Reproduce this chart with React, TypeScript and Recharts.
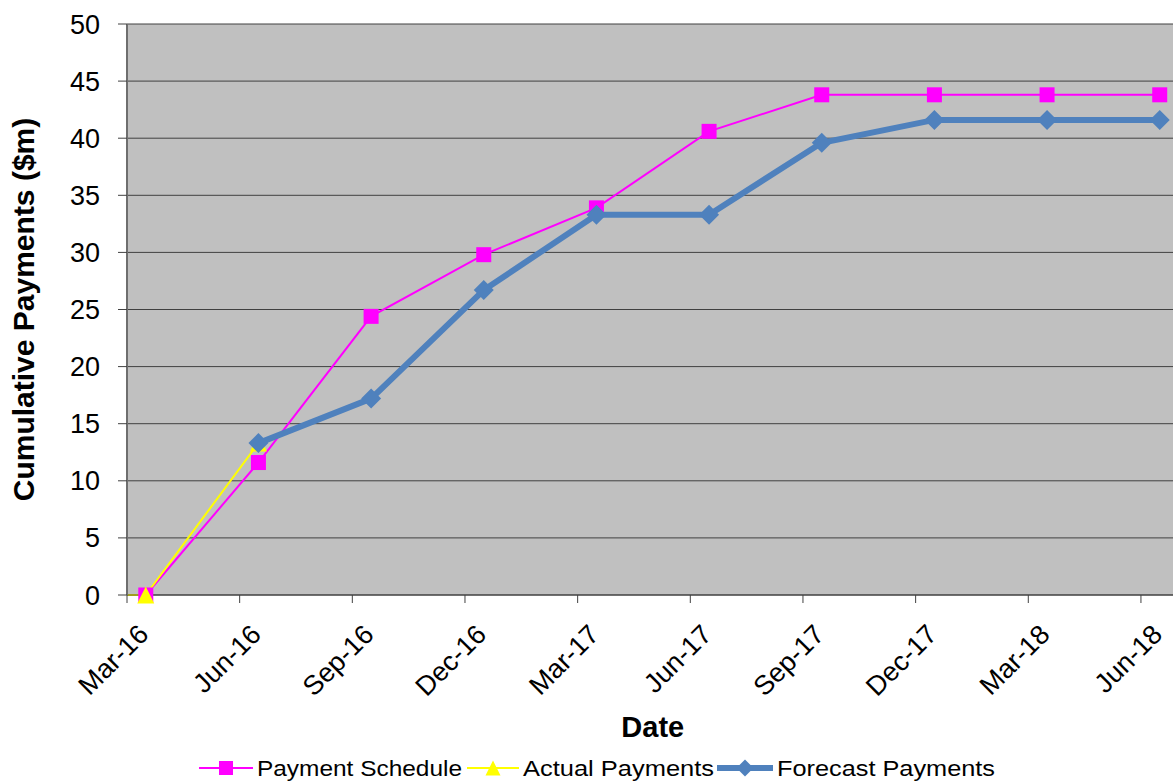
import { LineChart, Line, XAxis, YAxis, CartesianGrid, Legend } from 'recharts'

// quarter labels on the date axis; each quarter's value sits in the middle of its month
const QUARTERS = ['Mar-16', 'Jun-16', 'Sep-16', 'Dec-16', 'Mar-17', 'Jun-17', 'Sep-17', 'Dec-17', 'Mar-18', 'Jun-18']
const SCHEDULE = [0, 11.6, 24.4, 29.8, 33.9, 40.6, 43.8, 43.8, 43.8, 43.8]
const ACTUAL: (number | null)[] = [0, 13.3, null, null, null, null, null, null, null, null]
const FORECAST: (number | null)[] = [null, 13.3, 17.2, 26.7, 33.3, 33.3, 39.6, 41.6, 41.6, 41.6]
// actuals start a month before the axis (Feb-16), so the line runs in from the left edge
const ACTUAL_LEAD_IN = { month: -1, value: 0 }
const Y_TICKS = [0, 5, 10, 15, 20, 25, 30, 35, 40, 45, 50]

const PINK = '#FF00FF'
const YELLOW = '#FFFF00'
const BLUE = '#4F81BD'
const FONT = '"Liberation Sans", Arial, sans-serif'

// x is measured in months from the start of Mar-16
const data = [
  { m: ACTUAL_LEAD_IN.month + 0.5, actual: ACTUAL_LEAD_IN.value },
  ...QUARTERS.map((q, i) => ({
    m: i * 3 + 0.5,
    label: q,
    schedule: SCHEDULE[i],
    actual: ACTUAL[i],
    forecast: FORECAST[i],
  })),
]
const X_TICKS = QUARTERS.map((_, i) => i * 3)

const square = (cx: number, cy: number, s: number, fill: string) => (
  <rect x={cx - s / 2} y={cy - s / 2} width={s} height={s} fill={fill} />
)
const triangle = (cx: number, cy: number, s: number, fill: string) => (
  <polygon points={`${cx},${cy - s / 2} ${cx + s / 2},${cy + s / 2} ${cx - s / 2},${cy + s / 2}`} fill={fill} />
)
const diamond = (cx: number, cy: number, s: number, fill: string) => (
  <polygon points={`${cx},${cy - s / 2} ${cx + s / 2},${cy} ${cx},${cy + s / 2} ${cx - s / 2},${cy}`} fill={fill} />
)

const makeDot = (shape: typeof square, size: number, fill: string, prefix: string) => (p: any) => {
  if (p.cx == null || p.cy == null || p.value == null) return <g key={`${prefix}-${p.index}`} />
  return <g key={`${prefix}-${p.index}`}>{shape(p.cx, p.cy, size, fill)}</g>
}

const DateTick = (props: any) => {
  const { x, y, payload } = props
  const label = QUARTERS[payload.value / 3]
  const tx = x + 23
  const ty = y + 33
  return (
    <g>
      <line x1={x} y1={y - 8} x2={x} y2={y} stroke="#404040" strokeWidth={1} />
      <text x={tx} y={ty} transform={`rotate(-45, ${tx}, ${ty})`} textAnchor="end"
        fontFamily={FONT} fontSize={27} fill="#000">
        {label}
      </text>
    </g>
  )
}

const YTitle = (props: any) => {
  const { viewBox } = props
  const cx = 23
  const cy = viewBox.y + viewBox.height / 2
  return (
    <text x={cx} y={cy} transform={`rotate(-90, ${cx}, ${cy})`} textAnchor="middle" dominantBaseline="central"
      fontFamily={FONT} fontSize={30} fontWeight="bold" fill="#000">
      Cumulative Payments ($m)
    </text>
  )
}

// legend entries: icon start, text start and text width along the bottom row
const LEGEND_ITEMS = [
  { label: 'Payment Schedule', color: PINK, width: 2, shape: square, size: 14, x: 199, w: 54, tx: 257, tw: 205 },
  { label: 'Actual Payments', color: YELLOW, width: 2, shape: triangle, size: 15, x: 467, w: 52, tx: 523, tw: 191 },
  { label: 'Forecast Payments', color: BLUE, width: 6, shape: diamond, size: 17, x: 717, w: 56, tx: 777, tw: 218 },
]

const renderLegend = () => (
  <svg width={1173} height={30} style={{ display: 'block' }}>
    {LEGEND_ITEMS.map(it => (
      <g key={it.label}>
        <line x1={it.x} y1={15} x2={it.x + it.w} y2={15} stroke={it.color} strokeWidth={it.width} />
        {it.shape(it.x + it.w / 2, 15, it.size, it.color)}
        <text x={it.tx} y={23} fontFamily={FONT} fontSize={22} fill="#000"
          textLength={it.tw} lengthAdjust="spacingAndGlyphs">
          {it.label}
        </text>
      </g>
    ))}
  </svg>
)

export default function App() {
  return (
    <div style={{ position: 'absolute', left: 0, top: 0, width: 1173, height: 783, overflow: 'hidden', background: '#fff' }}>
      <LineChart width={1190} height={783} data={data} margin={{ top: 24, right: 11.5, left: 0, bottom: 0 }}>
        <CartesianGrid vertical={false} fill="#C0C0C0" stroke="#404040" strokeWidth={1} fillOpacity={1} />
        <XAxis
          dataKey="m"
          type="number"
          domain={[0, 28]}
          ticks={X_TICKS}
          allowDataOverflow
          interval={0}
          height={158}
          tick={<DateTick />}
          tickLine={false}
          tickSize={8}
          tickMargin={0}
          axisLine={{ stroke: '#404040', strokeWidth: 1 }}
          label={{ value: 'Date', position: 'insideBottom', offset: 16, style: { fontFamily: FONT, fontSize: 29, fontWeight: 'bold', fill: '#000' } }}
        />
        <YAxis
          type="number"
          domain={[0, 50]}
          ticks={Y_TICKS}
          width={127}
          tickSize={9}
          tickMargin={18}
          tickLine={{ stroke: '#404040' }}
          axisLine={{ stroke: '#6E6E6E', strokeWidth: 2 }}
          tick={{ fontFamily: FONT, fontSize: 27, fill: '#000' }}
          label={<YTitle />}
        />
        <Legend verticalAlign="bottom" content={renderLegend} wrapperStyle={{ left: 0, width: 1173, bottom: 0, height: 30 }} />
        <Line dataKey="schedule" name="Payment Schedule" stroke={PINK} strokeWidth={2}
          dot={makeDot(square, 15, PINK, 's')} activeDot={false} isAnimationActive={false} />
        <Line dataKey="actual" name="Actual Payments" stroke={YELLOW} strokeWidth={2}
          dot={makeDot(triangle, 17, YELLOW, 'a')} activeDot={false} isAnimationActive={false} />
        <Line dataKey="forecast" name="Forecast Payments" stroke={BLUE} strokeWidth={6}
          dot={makeDot(diamond, 20, BLUE, 'f')} activeDot={false} isAnimationActive={false} />
      </LineChart>
    </div>
  )
}
